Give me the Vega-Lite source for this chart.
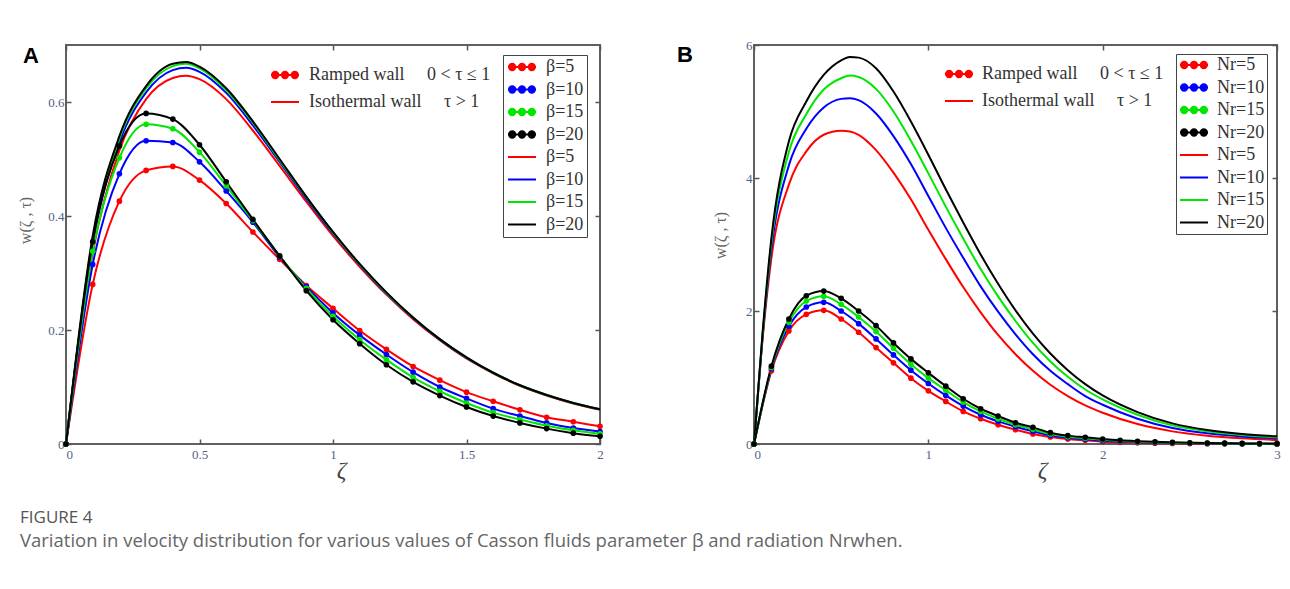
{
  "$schema": "https://vega.github.io/schema/vega-lite/v6.json",
  "background": "white",
  "autosize": {"type": "pad"},
  "padding": {"left": 16, "top": 38, "right": 5, "bottom": 5},
  "title": {
    "text": "FIGURE 4",
    "subtitle": "Variation in velocity distribution for various values of Casson fluids parameter β and radiation Nrwhen.",
    "orient": "bottom", "anchor": "start", "frame": "bounds", "offset": 27, "dx": 4,
    "font": "Open Sans", "fontSize": 17, "fontWeight": "normal", "color": "#555",
    "subtitleFont": "Open Sans", "subtitleFontSize": 18.5, "subtitleColor": "#666", "subtitlePadding": 5
  },
  "bounds": "flush",
  "spacing": 154,
  "resolve": {
    "scale": {"x": "independent", "y": "independent", "color": "independent", "fill": "independent", "stroke": "independent", "shape": "independent"},
    "legend": {"fill": "independent", "stroke": "independent", "shape": "independent"}
  },
  "config": {
    "view": {"stroke": "#606060", "strokeWidth": 2},
    "axis": {
      "domain": false, "grid": false, "tickSize": -5, "tickColor": "#555", "tickWidth": 1.5,
      "labelFont": "Liberation Serif", "labelFontSize": 13, "labelColor": "#53637f", "labelPadding": 7, "labelFlush": false,
      "titleFont": "Liberation Serif", "titleFontWeight": "normal", "titleColor": "#666"
    },
    "legend": {
      "labelFont": "Liberation Serif", "labelFontSize": 18, "labelColor": "#333", "labelLimit": 400,
      "symbolStrokeWidth": 2, "symbolSize": 196, "symbolOffset": 7
    }
  },
  "hconcat": [
    {
      "width": 534, "height": 399,
      "title": {"text": "A", "anchor": "start", "frame": "group", "baseline": "top", "offset": -26, "dx": -43, "dy": -2, "font": "Liberation Sans", "fontSize": 22, "fontWeight": "bold", "color": "#000"},
      "data": {"values": [
        {"x":0,"R5":0,"R10":0,"R15":0,"R20":0,"I5":0,"I10":0,"I15":0,"I20":0},
        {"x":0.1,"R5":0.28,"R10":0.315,"R15":0.338,"R20":0.355,"I5":0.335,"I10":0.352,"I15":0.36,"I20":0.365},
        {"x":0.2,"R5":0.426,"R10":0.474,"R15":0.502,"R20":0.523,"I5":0.515,"I10":0.529,"I15":0.536,"I20":0.54},
        {"x":0.3,"R5":0.48,"R10":0.532,"R15":0.561,"R20":0.58,"I5":0.605,"I10":0.617,"I15":0.624,"I20":0.628},
        {"x":0.4,"R5":0.487,"R10":0.529,"R15":0.553,"R20":0.57,"I5":0.642,"I10":0.656,"I15":0.663,"I20":0.667},
        {"x":0.45,"I5":0.646,"I10":0.66,"I15":0.667,"I20":0.67},
        {"x":0.5,"R5":0.463,"R10":0.495,"R15":0.512,"R20":0.525,"I5":0.64,"I10":0.653,"I15":0.659,"I20":0.662},
        {"x":0.6,"R5":0.422,"R10":0.444,"R15":0.453,"R20":0.46,"I5":0.605,"I10":0.616,"I15":0.621,"I20":0.624},
        {"x":0.7,"R5":0.372,"R10":0.389,"R15":0.392,"R20":0.394,"I5":0.55,"I10":0.559,"I15":0.564,"I20":0.566},
        {"x":0.8,"R5":0.324,"R10":0.328,"R15":0.33,"R20":0.33,"I5":0.488,"I10":0.495,"I15":0.498,"I20":0.5},
        {"x":0.9,"R5":0.278,"R10":0.276,"R15":0.273,"R20":0.269,"I5":0.425,"I10":0.43,"I15":0.433,"I20":0.434},
        {"x":1,"R5":0.238,"R10":0.23,"R15":0.224,"R20":0.218,"I5":0.365,"I10":0.369,"I15":0.371,"I20":0.372},
        {"x":1.1,"R5":0.199,"R10":0.191,"R15":0.183,"R20":0.176,"I5":0.311,"I10":0.314,"I15":0.315,"I20":0.316},
        {"x":1.2,"R5":0.166,"R10":0.157,"R15":0.148,"R20":0.139,"I5":0.262,"I10":0.264,"I15":0.265,"I20":0.266},
        {"x":1.3,"R5":0.136,"R10":0.126,"R15":0.117,"R20":0.109,"I5":0.219,"I10":0.221,"I15":0.222,"I20":0.222},
        {"x":1.4,"R5":0.112,"R10":0.1,"R15":0.0925,"R20":0.085,"I5":0.182,"I10":0.183,"I15":0.184,"I20":0.184},
        {"x":1.5,"R5":0.091,"R10":0.08,"R15":0.072,"R20":0.065,"I5":0.15,"I10":0.151,"I15":0.152,"I20":0.152},
        {"x":1.6,"R5":0.075,"R10":0.062,"R15":0.055,"R20":0.049,"I5":0.124,"I10":0.125,"I15":0.125,"I20":0.125},
        {"x":1.7,"R5":0.06,"R10":0.049,"R15":0.043,"R20":0.037,"I5":0.102,"I10":0.103,"I15":0.103,"I20":0.103},
        {"x":1.8,"R5":0.047,"R10":0.037,"R15":0.032,"R20":0.027,"I5":0.085,"I10":0.086,"I15":0.086,"I20":0.086},
        {"x":1.9,"R5":0.039,"R10":0.028,"R15":0.024,"R20":0.019,"I5":0.071,"I10":0.072,"I15":0.072,"I20":0.072},
        {"x":2,"R5":0.031,"R10":0.022,"R15":0.018,"R20":0.0135,"I5":0.06,"I10":0.061,"I15":0.061,"I20":0.061}
      ]},
      "transform": [{"fold": ["R5","R10","R15","R20","I5","I10","I15","I20"], "as": ["key", "value"]}],
      "layer": [
        {
          "transform": [{"filter": "indexof(datum.key, 'I') == 0 && isValid(datum.value)"}],
          "mark": {"type": "line", "strokeWidth": 2, "interpolate": "monotone"},
          "encoding": {
            "x": {"field": "x", "type": "quantitative", "scale": {"domain": [0, 2], "nice": false, "zero": false},
                  "axis": {"orient": "bottom", "values": [0, 0.5, 1, 1.5, 2], "format": "~g", "labelFontSize": 13, "labelPadding": 9,
                           "labelAlign": {"condition": {"test": "datum.value === 0", "value": "left"}, "value": "center"},
                           "title": "ζ", "titleFontSize": 24, "titleFontStyle": "italic", "titleColor": "#444", "titlePadding": -3, "titleX": 275}},
            "y": {"field": "value", "type": "quantitative", "scale": {"domain": [0, 0.7], "nice": false},
                  "axis": {"orient": "left", "values": [0, 0.2, 0.4, 0.6], "format": "~g", "labelFontSize": 13, "title": "w(ζ , τ)", "titleFontSize": 16, "titleX": -41, "titleY": 175, "titleAlign": "center", "titleBaseline": "middle"}},
            "color": {"field": "key", "type": "nominal", "scale": {"domain": ["R5","R10","R15","R20","I5","I10","I15","I20"], "range": ["#ff0000","#0000ff","#00e600","#000000","#ff0000","#0000ff","#00e600","#000000"]}, "legend": null}
          }
        },
        {
          "transform": [{"filter": "indexof(datum.key, 'R') == 0 && isValid(datum.value)"}],
          "mark": {"type": "line", "strokeWidth": 2, "interpolate": "monotone"},
          "encoding": {
            "x": {"field": "x", "type": "quantitative", "axis": {"orient": "top", "values": [0, 0.5, 1, 1.5, 2], "labels": false, "title": null}},
            "y": {"field": "value", "type": "quantitative", "axis": {"orient": "right", "values": [0, 0.2, 0.4, 0.6], "labels": false, "title": null}},
            "color": {"field": "key", "type": "nominal", "legend": null}
          }
        },
        {
          "transform": [{"filter": "indexof(datum.key, 'R') == 0 && isValid(datum.value)"}],
          "mark": {"type": "point", "filled": true, "size": 32, "opacity": 1},
          "encoding": {
            "x": {"field": "x", "type": "quantitative", "axis": null},
            "y": {"field": "value", "type": "quantitative", "axis": null},
            "color": {"field": "key", "type": "nominal", "legend": null}
          }
        },
        {
          "transform": [{"filter": "false"}],
          "mark": {"type": "point", "filled": true, "opacity": 1},
          "encoding": {
            "shape": {"field": "key", "type": "nominal",
              "scale": {"domain": ["R5","R10","R15","R20","I5","I10","I15","I20"], "range": [
                "M-2,0L2,0M-1.85,0A0.45,0.45 0 1,0 -0.95,0A0.45,0.45 0 1,0 -1.85,0ZM-0.45,0A0.45,0.45 0 1,0 0.45,0A0.45,0.45 0 1,0 -0.45,0ZM0.95,0A0.45,0.45 0 1,0 1.85,0A0.45,0.45 0 1,0 0.95,0Z",
                "M-2,0L2,0M-1.85,0A0.45,0.45 0 1,0 -0.95,0A0.45,0.45 0 1,0 -1.85,0ZM-0.45,0A0.45,0.45 0 1,0 0.45,0A0.45,0.45 0 1,0 -0.45,0ZM0.95,0A0.45,0.45 0 1,0 1.85,0A0.45,0.45 0 1,0 0.95,0Z",
                "M-2,0L2,0M-1.85,0A0.45,0.45 0 1,0 -0.95,0A0.45,0.45 0 1,0 -1.85,0ZM-0.45,0A0.45,0.45 0 1,0 0.45,0A0.45,0.45 0 1,0 -0.45,0ZM0.95,0A0.45,0.45 0 1,0 1.85,0A0.45,0.45 0 1,0 0.95,0Z",
                "M-2,0L2,0M-1.85,0A0.45,0.45 0 1,0 -0.95,0A0.45,0.45 0 1,0 -1.85,0ZM-0.45,0A0.45,0.45 0 1,0 0.45,0A0.45,0.45 0 1,0 -0.45,0ZM0.95,0A0.45,0.45 0 1,0 1.85,0A0.45,0.45 0 1,0 0.95,0Z",
                "M-2,0L2,0","M-2,0L2,0","M-2,0L2,0","M-2,0L2,0"]},
              "legend": {"title": null, "orient": "none", "legendX": 437, "legendY": 10, "padding": 3, "strokeColor": "#444", "rowPadding": 4.5, "labelOffset": 15, "labelExpr": "'β=' + slice(datum.label, 1) + '\u00a0\u00a0\u00a0\u00a0'"}},
            "fill": {"field": "key", "type": "nominal",
              "scale": {"domain": ["R5","R10","R15","R20","I5","I10","I15","I20"], "range": ["#ff0000","#0000ff","#00e600","#000000","#ff0000","#0000ff","#00e600","#000000"]},
              "legend": {"title": null, "orient": "none", "legendX": 437, "legendY": 10, "padding": 3, "strokeColor": "#444", "rowPadding": 4.5, "labelOffset": 15, "labelExpr": "'β=' + slice(datum.label, 1) + '\u00a0\u00a0\u00a0\u00a0'"}},
            "stroke": {"field": "key", "type": "nominal",
              "scale": {"domain": ["R5","R10","R15","R20","I5","I10","I15","I20"], "range": ["#ff0000","#0000ff","#00e600","#000000","#ff0000","#0000ff","#00e600","#000000"]},
              "legend": {"title": null, "orient": "none", "legendX": 437, "legendY": 10, "padding": 3, "strokeColor": "#444", "rowPadding": 4.5, "labelOffset": 15, "labelExpr": "'β=' + slice(datum.label, 1) + '\u00a0\u00a0\u00a0\u00a0'"}}
          }
        },
        {
          "transform": [{"filter": "false"}],
          "mark": {"type": "point", "filled": true, "opacity": 1},
          "encoding": {
            "shape": {"field": "wall", "type": "nominal",
              "scale": {"domain": ["R", "I"], "range": [
                "M-2,0L2,0M-1.85,0A0.45,0.45 0 1,0 -0.95,0A0.45,0.45 0 1,0 -1.85,0ZM-0.45,0A0.45,0.45 0 1,0 0.45,0A0.45,0.45 0 1,0 -0.45,0ZM0.95,0A0.45,0.45 0 1,0 1.85,0A0.45,0.45 0 1,0 0.95,0Z",
                "M-2,0L2,0"]},
              "legend": {"title": null, "orient": "none", "legendX": 203, "legendY": 21, "padding": 0, "rowPadding": 9, "labelOffset": 15, "labelExpr": "datum.label == 'R' ? 'Ramped wall\u00a0\u00a0\u00a0\u00a0\u00a00 < τ ≤ 1' : 'Isothermal wall\u00a0\u00a0\u00a0\u00a0\u00a0τ > 1'"}},
            "fill": {"field": "wall", "type": "nominal", "scale": {"domain": ["R", "I"], "range": ["#ff0000", "#ff0000"]},
              "legend": {"title": null, "orient": "none", "legendX": 203, "legendY": 21, "padding": 0, "rowPadding": 9, "labelOffset": 15, "labelExpr": "datum.label == 'R' ? 'Ramped wall\u00a0\u00a0\u00a0\u00a0\u00a00 < τ ≤ 1' : 'Isothermal wall\u00a0\u00a0\u00a0\u00a0\u00a0τ > 1'"}},
            "stroke": {"field": "wall", "type": "nominal", "scale": {"domain": ["R", "I"], "range": ["#ff0000", "#ff0000"]},
              "legend": {"title": null, "orient": "none", "legendX": 203, "legendY": 21, "padding": 0, "rowPadding": 9, "labelOffset": 15, "labelExpr": "datum.label == 'R' ? 'Ramped wall\u00a0\u00a0\u00a0\u00a0\u00a00 < τ ≤ 1' : 'Isothermal wall\u00a0\u00a0\u00a0\u00a0\u00a0τ > 1'"}}
          }
        }
      ],
      "resolve": {
        "scale": {"fill": "independent", "stroke": "independent", "shape": "independent"},
        "axis": {"x": "independent", "y": "independent"},
        "legend": {"fill": "independent", "stroke": "independent", "shape": "independent"}
      }
    },
    {
      "width": 523, "height": 399,
      "title": {"text": "B", "anchor": "start", "frame": "group", "baseline": "top", "offset": -23, "dx": -77, "dy": 5, "font": "Liberation Sans", "fontSize": 22, "fontWeight": "bold", "color": "#000"},
      "data": {"values": [
        {"x":0,"R5":0,"R10":0,"R15":0,"R20":0,"I5":0,"I10":0,"I15":0,"I20":0},
        {"x":0.05,"I5":1.6,"I10":1.64,"I15":1.67,"I20":1.7},
        {"x":0.1,"R5":1.1,"R10":1.13,"R15":1.15,"R20":1.17,"I5":2.8,"I10":2.94,"I15":3.03,"I20":3.1},
        {"x":0.2,"R5":1.7,"R10":1.77,"R15":1.83,"R20":1.88,"I5":3.9,"I10":4.19,"I15":4.39,"I20":4.55},
        {"x":0.3,"R5":1.95,"R10":2.06,"R15":2.15,"R20":2.23,"I5":4.4,"I10":4.74,"I15":4.96,"I20":5.15},
        {"x":0.4,"R5":2.01,"R10":2.13,"R15":2.22,"R20":2.3,"I5":4.65,"I10":5.06,"I15":5.33,"I20":5.55},
        {"x":0.5,"R5":1.88,"R10":2.0,"R15":2.1,"R20":2.19,"I5":4.71,"I10":5.19,"I15":5.5,"I20":5.77},
        {"x":0.55,"I5":4.7,"I10":5.2,"I15":5.54,"I20":5.82},
        {"x":0.6,"R5":1.68,"R10":1.81,"R15":1.91,"R20":2.0,"I5":4.65,"I10":5.17,"I15":5.52,"I20":5.81},
        {"x":0.7,"R5":1.45,"R10":1.58,"R15":1.69,"R20":1.78,"I5":4.42,"I10":4.97,"I15":5.34,"I20":5.65},
        {"x":0.8,"R5":1.22,"R10":1.34,"R15":1.44,"R20":1.52,"I5":4.08,"I10":4.63,"I15":5.0,"I20":5.3},
        {"x":0.9,"R5":0.99,"R10":1.11,"R15":1.2,"R20":1.28,"I5":3.68,"I10":4.21,"I15":4.56,"I20":4.85},
        {"x":1,"R5":0.8,"R10":0.91,"R15":0.99,"R20":1.07,"I5":3.22,"I10":3.73,"I15":4.07,"I20":4.35},
        {"x":1.1,"R5":0.64,"R10":0.73,"R15":0.81,"R20":0.87,"I5":2.78,"I10":3.25,"I15":3.57,"I20":3.83},
        {"x":1.2,"R5":0.49,"R10":0.57,"R15":0.63,"R20":0.68,"I5":2.36,"I10":2.8,"I15":3.09,"I20":3.33},
        {"x":1.3,"R5":0.38,"R10":0.44,"R15":0.49,"R20":0.53,"I5":1.98,"I10":2.37,"I15":2.63,"I20":2.85},
        {"x":1.4,"R5":0.29,"R10":0.34,"R15":0.38,"R20":0.42,"I5":1.64,"I10":1.99,"I15":2.22,"I20":2.41},
        {"x":1.5,"R5":0.216,"R10":0.26,"R15":0.29,"R20":0.32,"I5":1.35,"I10":1.65,"I15":1.85,"I20":2.01},
        {"x":1.6,"R5":0.15,"R10":0.19,"R15":0.22,"R20":0.25,"I5":1.1,"I10":1.35,"I15":1.52,"I20":1.66},
        {"x":1.7,"R5":0.105,"R10":0.13,"R15":0.15,"R20":0.17,"I5":0.89,"I10":1.1,"I15":1.24,"I20":1.36},
        {"x":1.8,"R5":0.075,"R10":0.095,"R15":0.11,"R20":0.126,"I5":0.72,"I10":0.9,"I15":1.01,"I20":1.11},
        {"x":1.9,"R5":0.055,"R10":0.073,"R15":0.087,"R20":0.1,"I5":0.58,"I10":0.72,"I15":0.82,"I20":0.9},
        {"x":2,"R5":0.035,"R10":0.05,"R15":0.064,"R20":0.075,"I5":0.47,"I10":0.59,"I15":0.67,"I20":0.73},
        {"x":2.1,"R5":0.025,"R10":0.037,"R15":0.047,"R20":0.055},
        {"x":2.2,"R5":0.018,"R10":0.028,"R15":0.035,"R20":0.042,"I5":0.3,"I10":0.38,"I15":0.44,"I20":0.48},
        {"x":2.3,"R5":0.012,"R10":0.02,"R15":0.026,"R20":0.032},
        {"x":2.4,"R5":0.008,"R10":0.015,"R15":0.02,"R20":0.025,"I5":0.19,"I10":0.24,"I15":0.28,"I20":0.31},
        {"x":2.5,"R5":0.006,"R10":0.011,"R15":0.015,"R20":0.019},
        {"x":2.6,"R5":0.004,"R10":0.008,"R15":0.012,"R20":0.015,"I5":0.125,"I10":0.16,"I15":0.19,"I20":0.21},
        {"x":2.7,"R5":0.003,"R10":0.006,"R15":0.009,"R20":0.012},
        {"x":2.8,"R5":0.002,"R10":0.005,"R15":0.007,"R20":0.009,"I5":0.085,"I10":0.114,"I15":0.134,"I20":0.15},
        {"x":2.9,"R5":0.001,"R10":0.003,"R15":0.005,"R20":0.007},
        {"x":3,"R5":0.001,"R10":0.002,"R15":0.004,"R20":0.005,"I5":0.06,"I10":0.085,"I15":0.1,"I20":0.115}
      ]},
      "transform": [{"fold": ["R5","R10","R15","R20","I5","I10","I15","I20"], "as": ["key", "value"]}],
      "layer": [
        {
          "transform": [{"filter": "indexof(datum.key, 'I') == 0 && isValid(datum.value)"}],
          "mark": {"type": "line", "strokeWidth": 2, "interpolate": "monotone"},
          "encoding": {
            "x": {"field": "x", "type": "quantitative", "scale": {"domain": [0, 3], "nice": false, "zero": false},
                  "axis": {"orient": "bottom", "values": [0, 1, 2, 3], "format": "~g", "labelFontSize": 13, "labelPadding": 9,
                           "labelAlign": {"condition": {"test": "datum.value === 0", "value": "left"}, "value": "center"},
                           "title": "ζ", "titleFontSize": 24, "titleFontStyle": "italic", "titleColor": "#444", "titlePadding": -3, "titleX": 288}},
            "y": {"field": "value", "type": "quantitative", "scale": {"domain": [0, 6], "nice": false},
                  "axis": {"orient": "left", "values": [0, 2, 4, 6], "format": "~g", "labelFontSize": 13, "title": "w(ζ , τ)", "titleFontSize": 16, "titleX": -34, "titleY": 190, "titleAlign": "center", "titleBaseline": "middle"}},
            "color": {"field": "key", "type": "nominal", "scale": {"domain": ["R5","R10","R15","R20","I5","I10","I15","I20"], "range": ["#ff0000","#0000ff","#00e600","#000000","#ff0000","#0000ff","#00e600","#000000"]}, "legend": null}
          }
        },
        {
          "transform": [{"filter": "indexof(datum.key, 'R') == 0 && isValid(datum.value)"}],
          "mark": {"type": "line", "strokeWidth": 2, "interpolate": "monotone"},
          "encoding": {
            "x": {"field": "x", "type": "quantitative", "axis": {"orient": "top", "values": [0, 1, 2, 3], "labels": false, "title": null}},
            "y": {"field": "value", "type": "quantitative", "axis": {"orient": "right", "values": [0, 2, 4, 6], "labels": false, "title": null}},
            "color": {"field": "key", "type": "nominal", "legend": null}
          }
        },
        {
          "transform": [{"filter": "indexof(datum.key, 'R') == 0 && isValid(datum.value)"}],
          "mark": {"type": "point", "filled": true, "size": 32, "opacity": 1},
          "encoding": {
            "x": {"field": "x", "type": "quantitative", "axis": null},
            "y": {"field": "value", "type": "quantitative", "axis": null},
            "color": {"field": "key", "type": "nominal", "legend": null}
          }
        },
        {
          "transform": [{"filter": "false"}],
          "mark": {"type": "point", "filled": true, "opacity": 1},
          "encoding": {
            "shape": {"field": "key", "type": "nominal",
              "scale": {"domain": ["R5","R10","R15","R20","I5","I10","I15","I20"], "range": [
                "M-2,0L2,0M-1.85,0A0.45,0.45 0 1,0 -0.95,0A0.45,0.45 0 1,0 -1.85,0ZM-0.45,0A0.45,0.45 0 1,0 0.45,0A0.45,0.45 0 1,0 -0.45,0ZM0.95,0A0.45,0.45 0 1,0 1.85,0A0.45,0.45 0 1,0 0.95,0Z",
                "M-2,0L2,0M-1.85,0A0.45,0.45 0 1,0 -0.95,0A0.45,0.45 0 1,0 -1.85,0ZM-0.45,0A0.45,0.45 0 1,0 0.45,0A0.45,0.45 0 1,0 -0.45,0ZM0.95,0A0.45,0.45 0 1,0 1.85,0A0.45,0.45 0 1,0 0.95,0Z",
                "M-2,0L2,0M-1.85,0A0.45,0.45 0 1,0 -0.95,0A0.45,0.45 0 1,0 -1.85,0ZM-0.45,0A0.45,0.45 0 1,0 0.45,0A0.45,0.45 0 1,0 -0.45,0ZM0.95,0A0.45,0.45 0 1,0 1.85,0A0.45,0.45 0 1,0 0.95,0Z",
                "M-2,0L2,0M-1.85,0A0.45,0.45 0 1,0 -0.95,0A0.45,0.45 0 1,0 -1.85,0ZM-0.45,0A0.45,0.45 0 1,0 0.45,0A0.45,0.45 0 1,0 -0.45,0ZM0.95,0A0.45,0.45 0 1,0 1.85,0A0.45,0.45 0 1,0 0.95,0Z",
                "M-2,0L2,0","M-2,0L2,0","M-2,0L2,0","M-2,0L2,0"]},
              "legend": {"title": null, "orient": "none", "legendX": 422, "legendY": 9, "padding": 2, "strokeColor": "#444", "rowPadding": 4.5, "labelOffset": 14, "labelExpr": "'Nr=' + slice(datum.label, 1) + '\u00a0'"}},
            "fill": {"field": "key", "type": "nominal",
              "scale": {"domain": ["R5","R10","R15","R20","I5","I10","I15","I20"], "range": ["#ff0000","#0000ff","#00e600","#000000","#ff0000","#0000ff","#00e600","#000000"]},
              "legend": {"title": null, "orient": "none", "legendX": 422, "legendY": 9, "padding": 2, "strokeColor": "#444", "rowPadding": 4.5, "labelOffset": 14, "labelExpr": "'Nr=' + slice(datum.label, 1) + '\u00a0'"}},
            "stroke": {"field": "key", "type": "nominal",
              "scale": {"domain": ["R5","R10","R15","R20","I5","I10","I15","I20"], "range": ["#ff0000","#0000ff","#00e600","#000000","#ff0000","#0000ff","#00e600","#000000"]},
              "legend": {"title": null, "orient": "none", "legendX": 422, "legendY": 9, "padding": 2, "strokeColor": "#444", "rowPadding": 4.5, "labelOffset": 14, "labelExpr": "'Nr=' + slice(datum.label, 1) + '\u00a0'"}}
          }
        },
        {
          "transform": [{"filter": "false"}],
          "mark": {"type": "point", "filled": true, "opacity": 1},
          "encoding": {
            "shape": {"field": "wall", "type": "nominal",
              "scale": {"domain": ["R", "I"], "range": [
                "M-2,0L2,0M-1.85,0A0.45,0.45 0 1,0 -0.95,0A0.45,0.45 0 1,0 -1.85,0ZM-0.45,0A0.45,0.45 0 1,0 0.45,0A0.45,0.45 0 1,0 -0.45,0ZM0.95,0A0.45,0.45 0 1,0 1.85,0A0.45,0.45 0 1,0 0.95,0Z",
                "M-2,0L2,0"]},
              "legend": {"title": null, "orient": "none", "legendX": 189, "legendY": 20, "padding": 0, "rowPadding": 9, "labelOffset": 14, "labelExpr": "datum.label == 'R' ? 'Ramped wall\u00a0\u00a0\u00a0\u00a0\u00a00 < τ ≤ 1' : 'Isothermal wall\u00a0\u00a0\u00a0\u00a0\u00a0τ > 1'"}},
            "fill": {"field": "wall", "type": "nominal", "scale": {"domain": ["R", "I"], "range": ["#ff0000", "#ff0000"]},
              "legend": {"title": null, "orient": "none", "legendX": 189, "legendY": 20, "padding": 0, "rowPadding": 9, "labelOffset": 14, "labelExpr": "datum.label == 'R' ? 'Ramped wall\u00a0\u00a0\u00a0\u00a0\u00a00 < τ ≤ 1' : 'Isothermal wall\u00a0\u00a0\u00a0\u00a0\u00a0τ > 1'"}},
            "stroke": {"field": "wall", "type": "nominal", "scale": {"domain": ["R", "I"], "range": ["#ff0000", "#ff0000"]},
              "legend": {"title": null, "orient": "none", "legendX": 189, "legendY": 20, "padding": 0, "rowPadding": 9, "labelOffset": 14, "labelExpr": "datum.label == 'R' ? 'Ramped wall\u00a0\u00a0\u00a0\u00a0\u00a00 < τ ≤ 1' : 'Isothermal wall\u00a0\u00a0\u00a0\u00a0\u00a0τ > 1'"}}
          }
        }
      ],
      "resolve": {
        "scale": {"fill": "independent", "stroke": "independent", "shape": "independent"},
        "axis": {"x": "independent", "y": "independent"},
        "legend": {"fill": "independent", "stroke": "independent", "shape": "independent"}
      }
    }
  ]
}
